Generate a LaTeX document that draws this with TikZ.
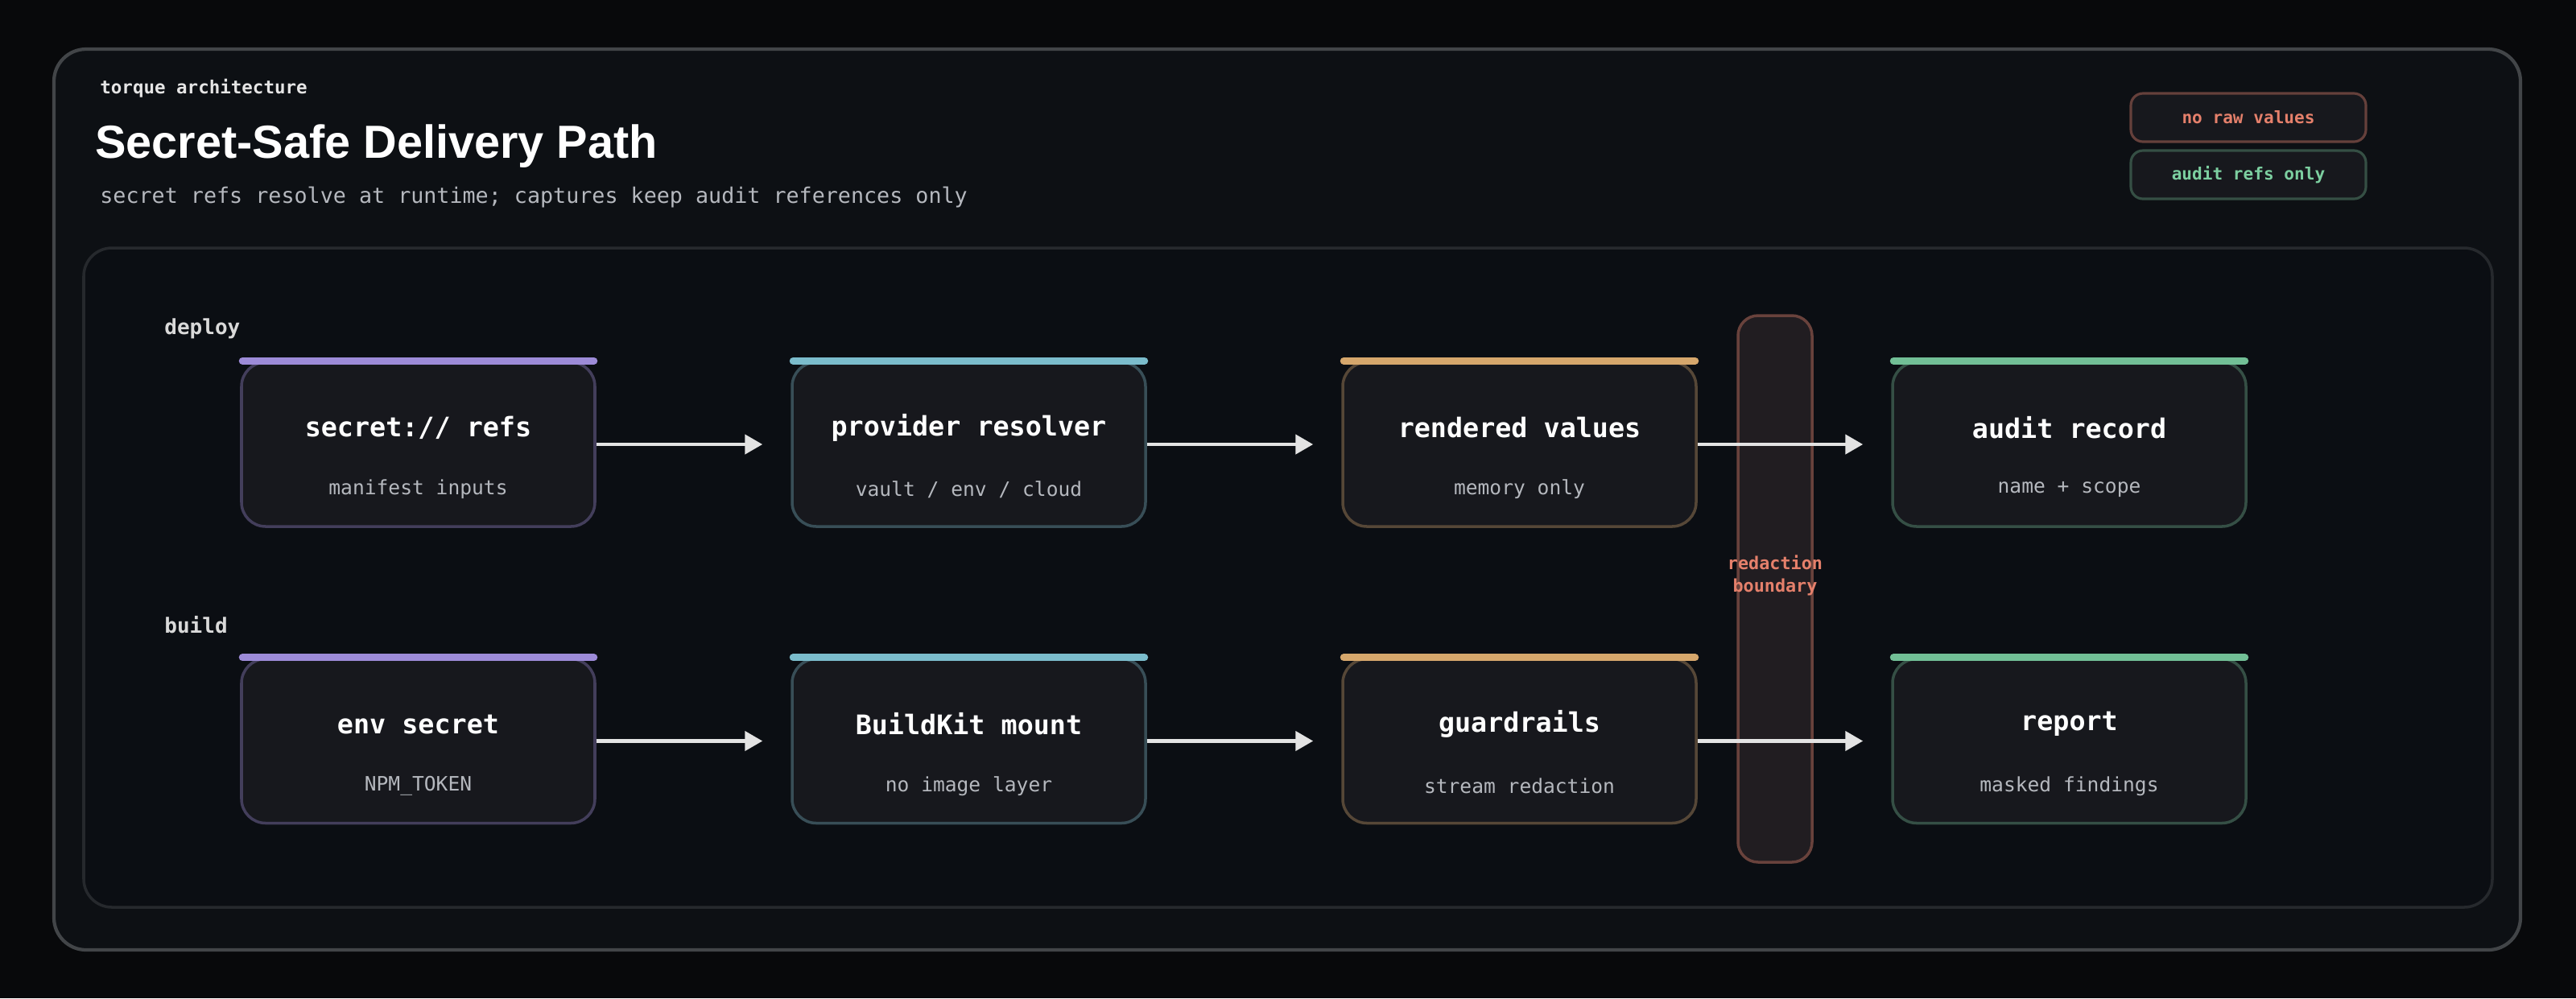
\documentclass[tikz,border=0pt]{standalone}
\usepackage{fontspec}
\setmainfont{Liberation Sans}
\setmonofont{DejaVu Sans Mono}
\usetikzlibrary{positioning,arrows.meta}
\definecolor{pagebg}{HTML}{08090B}
\definecolor{framebg}{HTML}{0D1014}
\definecolor{panelbg}{HTML}{0B0E13}
\definecolor{boxbg}{HTML}{17181D}
\definecolor{accpurple}{HTML}{9D8BD8}
\definecolor{accteal}{HTML}{7BBCCC}
\definecolor{accorange}{HTML}{D6A76C}
\definecolor{accgreen}{HTML}{72BF96}
\definecolor{redtext}{HTML}{E5806B}
\definecolor{greentext}{HTML}{7CCFA0}
\definecolor{subgray}{HTML}{B5B8BE}
\begin{document}
\begin{tikzpicture}
    % Stili
    \tikzstyle{stage}=[rectangle, rounded corners=0.3cm, fill=boxbg, line width=1pt, minimum width=4.39cm, minimum height=2.04cm]
    \tikzstyle{ttl}=[text=white, font=\ttfamily\bfseries\fontsize{9.5}{11}\selectfont]
    \tikzstyle{sub}=[text=subgray, font=\ttfamily\fontsize{7}{8}\selectfont]
    \tikzstyle{lane}=[text=white!85!black, font=\ttfamily\bfseries\fontsize{7.4}{9}\selectfont, anchor=west]
    \tikzstyle{badge}=[rectangle, rounded corners=0.15cm, fill=boxbg, line width=0.9pt, minimum width=2.92cm, minimum height=0.6cm, font=\ttfamily\bfseries\fontsize{6}{7}\selectfont]
    \tikzstyle{arrow}=[-{Triangle[length=0.22cm,width=0.24cm]}, line width=0.045cm, white!78!gray, shorten >=0.35cm]

    % Sfondo e cornici
    \fill[pagebg] (0,0) rectangle (32,-12.4);
    \useasboundingbox (0,0) rectangle (32,-12.4);
    \draw[fill=framebg, draw=white!22!framebg, line width=1.2pt, rounded corners=0.4cm] (0.67,-0.61) rectangle (31.31,-11.80);
    \draw[fill=panelbg, draw=white!11!panelbg, line width=1pt, rounded corners=0.35cm] (1.04,-3.08) rectangle (30.96,-11.27);

    % Intestazione
    \node[anchor=west, text=white!90!black, font=\ttfamily\bfseries\fontsize{6.4}{8}\selectfont] (kicker) at (1.12,-1.10) {torque architecture};
    \node[anchor=west, text=white, font=\bfseries\fontsize{16.4}{19}\selectfont] (title) at (1.06,-1.82) {Secret-Safe Delivery Path};
    \node[anchor=west, text=subgray, font=\ttfamily\fontsize{7.6}{9}\selectfont] (subtitle) at (1.12,-2.45) {secret refs resolve at runtime; captures keep audit references only};

    % Badge
    \node[badge, draw=redtext!38!boxbg, text=redtext] (rawbadge) at (27.93,-1.46) {no raw values};
    \node[badge, draw=greentext!30!boxbg, text=greentext] (auditbadge) at (27.93,-2.17) {audit refs only};

    % Confine di redazione
    \draw[fill=redtext!5!boxbg, draw=redtext!40!boxbg, line width=1pt, rounded corners=0.25cm] (21.59,-3.92) rectangle (22.51,-10.71);
    \node[text=redtext, align=center, font=\ttfamily\bfseries\fontsize{6.2}{8}\selectfont] (boundary) at (22.05,-7.15) {redaction\\boundary};

    % Corsie
    \node[lane] (deploy) at (1.92,-4.08) {deploy};
    \node[lane] (build) at (1.92,-7.76) {build};

    % Stadi
    \foreach \name/\x/\y/\acc/\t/\s in {
        refs/5.195/-5.52/accpurple/{secret:// refs}/{manifest inputs},
        resolver/12.035/-5.52/accteal/{provider resolver}/{vault / env / cloud},
        rendered/18.875/-5.52/accorange/{rendered values}/{memory only},
        audit/25.705/-5.52/accgreen/{audit record}/{name + scope},
        envsecret/5.195/-9.205/accpurple/{env secret}/{NPM\_TOKEN},
        mount/12.035/-9.205/accteal/{BuildKit mount}/{no image layer},
        guard/18.875/-9.205/accorange/{guardrails}/{stream redaction},
        report/25.705/-9.205/accgreen/{report}/{masked findings}} {
        \node[stage, draw=\acc!33!boxbg] (\name) at (\x,\y) {};
        \draw[\acc, line width=0.09cm, line cap=round] ([xshift=0.03cm]\name.north west) -- ([xshift=-0.03cm]\name.north east);
        \node[ttl] (\name-t) at ([yshift=0.21cm]\name.center) {\t};
        \node[sub] (\name-s) at ([yshift=-0.56cm]\name.center) {\s};
    }

    % Frecce
    \draw[arrow] (refs) -- (resolver);
    \draw[arrow] (resolver) -- (rendered);
    \draw[arrow] (rendered) -- (audit);
    \draw[arrow] (envsecret) -- (mount);
    \draw[arrow] (mount) -- (guard);
    \draw[arrow] (guard) -- (report);
\end{tikzpicture}
\end{document}
